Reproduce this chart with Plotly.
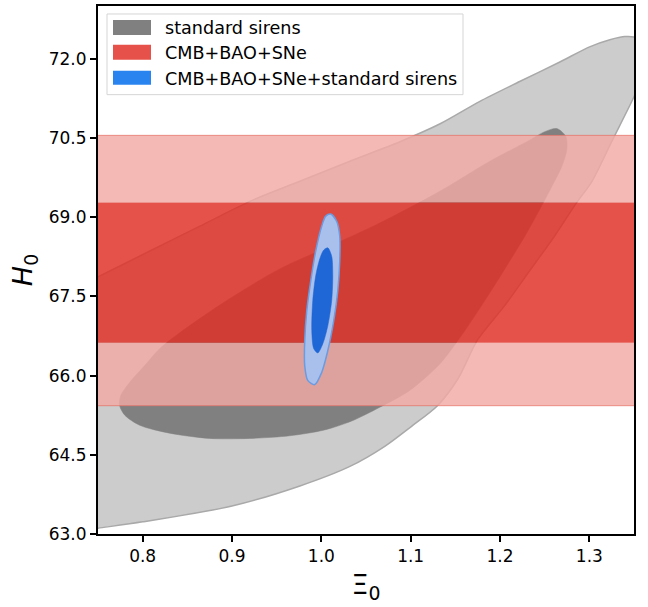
import plotly.graph_objects as go

# ---------------- data ----------------
# standard sirens: outer (2-sigma) contour
ss_outer_x = [0.7295, 0.750, 0.808, 0.864, 0.920, 0.976, 1.032, 1.088, 1.133, 1.177, 1.222,
              1.267, 1.301, 1.323, 1.340, 1.352, 1.362, 1.362, 1.350, 1.325, 1.303, 1.286,
              1.261, 1.233, 1.205, 1.175, 1.153, 1.130, 1.101, 1.071, 1.032, 0.976,
              0.900, 0.800, 0.750, 0.7295]
ss_outer_y = [67.70, 67.87, 68.36, 68.83, 69.30, 69.68, 70.06, 70.43, 70.77, 71.19, 71.57,
              71.94, 72.23, 72.36, 72.42, 72.40, 72.23, 71.75, 71.28, 70.43, 69.68, 69.28,
              68.64, 67.98, 67.32, 66.68, 65.94, 65.43, 65.04, 64.66, 64.28, 63.91,
              63.53, 63.23, 63.11, 63.06]

# standard sirens: inner (1-sigma) contour
ss_inner_x = [1.2636, 1.2737, 1.2748, 1.2692, 1.258, 1.2446, 1.2278, 1.2054, 1.183, 1.1606,
              1.1326, 1.0990, 1.0654, 1.034, 1.0035, 0.9646, 0.920, 0.875, 0.830, 0.7966,
              0.780, 0.7742, 0.7754, 0.7854, 0.8022, 0.819, 0.8414, 0.894, 0.9534, 1.0094,
              1.0654, 1.1326, 1.1886, 1.230, 1.2502, 1.2636]
ss_inner_y = [70.68, 70.53, 70.28, 69.96, 69.58, 69.15, 68.64, 68.02, 67.42, 66.85,
              66.22, 65.72, 65.40, 65.14, 64.97, 64.86, 64.81, 64.81, 64.91, 65.06,
              65.25, 65.43, 65.62, 65.87, 66.19, 66.51, 66.81, 67.42, 68.02, 68.45,
              68.89, 69.49, 70.06, 70.43, 70.62, 70.68]

# CMB+BAO+SNe: H0 bands (independent of Xi0)
cmb_x_span = [0.70, 1.40]
cmb_1sig = [66.62, 69.28]
cmb_2sig = [65.43, 70.55]

# CMB+BAO+SNe+standard sirens
comb_outer_x = [1.0105, 1.0172, 1.0206, 1.0206, 1.0184, 1.0139, 1.0072, 1.0004, 0.9926,
                0.9848, 0.9814, 0.9814, 0.9837, 0.9881, 0.9937, 1.0004, 1.0049, 1.0105]
comb_outer_y = [69.06, 68.92, 68.64, 68.17, 67.60, 67.04, 66.47, 66.06, 65.83,
                65.91, 66.19, 66.66, 67.23, 67.79, 68.36, 68.83, 69.02, 69.06]
comb_inner_x = [1.0072, 1.0116, 1.0128, 1.0116, 1.0072, 1.0016, 0.996, 0.9915, 0.9893,
                0.9904, 0.9937, 0.9982, 1.0027, 1.0072]
comb_inner_y = [68.42, 68.26, 67.89, 67.42, 66.94, 66.60, 66.43, 66.51, 66.85,
                67.42, 67.89, 68.21, 68.38, 68.42]

legend_labels = ["standard sirens", "CMB+BAO+SNe", "CMB+BAO+SNe+standard sirens"]
legend_colors = ["#808080", "#e6524a", "#2a84f0"]

x_ticks = [0.8, 0.9, 1.0, 1.1, 1.2, 1.3]
y_ticks = [63.0, 64.5, 66.0, 67.5, 69.0, 70.5, 72.0]

FONT = "DejaVu Sans"

# ---------------- figure ----------------
fig = go.Figure()

def band(lo, hi):
    x0, x1 = cmb_x_span
    return [x0, x1, x1, x0, x0], [lo, lo, hi, hi, lo]

# standard sirens
fig.add_trace(go.Scatter(x=ss_outer_x, y=ss_outer_y, mode="lines", fill="toself",
                         line=dict(color="#a9a9a9", width=1.5, shape="spline", smoothing=0.8),
                         fillcolor="#cccccc", showlegend=False, hoverinfo="skip"))
fig.add_trace(go.Scatter(x=ss_inner_x, y=ss_inner_y, mode="lines", fill="toself",
                         line=dict(color="#808080", width=0.5, shape="spline", smoothing=0.8),
                         fillcolor="#808080", showlegend=False, hoverinfo="skip"))

# CMB+BAO+SNe outer strips (2 sigma minus 1 sigma) and inner band
for lo, hi in [(cmb_2sig[0], cmb_1sig[0]), (cmb_1sig[1], cmb_2sig[1])]:
    bx, by = band(lo, hi)
    fig.add_trace(go.Scatter(x=bx, y=by, mode="lines", fill="toself",
                             line=dict(color="rgba(241,170,163,0.82)", width=0),
                             fillcolor="rgba(241,170,163,0.82)", showlegend=False,
                             hoverinfo="skip"))
bx, by = band(cmb_1sig[0], cmb_1sig[1])
fig.add_trace(go.Scatter(x=bx, y=by, mode="lines", fill="toself",
                         line=dict(color="rgba(224,48,38,0.835)", width=0),
                         fillcolor="rgba(224,48,38,0.835)", showlegend=False, hoverinfo="skip"))
# faint edges of the 2-sigma band
for yv in cmb_2sig:
    fig.add_trace(go.Scatter(x=cmb_x_span, y=[yv, yv], mode="lines",
                             line=dict(color="rgba(230,110,100,0.7)", width=1),
                             showlegend=False, hoverinfo="skip"))

# combined
fig.add_trace(go.Scatter(x=comb_outer_x, y=comb_outer_y, mode="lines", fill="toself",
                         line=dict(color="#6b9be0", width=1.5, shape="spline", smoothing=0.8),
                         fillcolor="#a9c0ec", showlegend=False, hoverinfo="skip"))
fig.add_trace(go.Scatter(x=comb_inner_x, y=comb_inner_y, mode="lines", fill="toself",
                         line=dict(color="#1f66d6", width=0.5, shape="spline", smoothing=0.8),
                         fillcolor="#1f66d6", showlegend=False, hoverinfo="skip"))

# ---------------- manual legend (matplotlib style) ----------------
L, R, T, B = 98, 634, 4, 534
def px(xp):
    return (xp - L) / (R - L)
def py(yp):
    return (B - yp) / (B - T)

shapes = [dict(type="rect", xref="paper", yref="paper",
               x0=px(107), x1=px(463), y0=py(93), y1=py(12),
               line=dict(color="#d5d5d5", width=1), fillcolor="rgba(255,255,255,0.85)",
               layer="above")]
annotations = []
rows = [(18, 33), (43, 58), (69, 83)]
for (y0, y1), lab, col in zip(rows, legend_labels, legend_colors):
    shapes.append(dict(type="rect", xref="paper", yref="paper",
                       x0=px(113), x1=px(151), y0=py(y1), y1=py(y0),
                       line=dict(width=0), fillcolor=col, layer="above"))
    annotations.append(dict(xref="paper", yref="paper", x=px(163), y=py((y0 + y1) / 2 + 1),
                            text=lab, showarrow=False, xanchor="left", yanchor="middle",
                            font=dict(family=FONT, size=17.6, color="#000000")))

fig.update_layout(
    width=648, height=607,
    margin=dict(l=L, r=648 - R, t=T, b=607 - B, pad=0),
    paper_bgcolor="white", plot_bgcolor="white",
    font=dict(family=FONT, size=17, color="black"),
    shapes=shapes, annotations=annotations,
    showlegend=False,
)
fig.update_xaxes(range=[0.75, 1.35], tickvals=x_ticks, tickformat=".1f",
                 showgrid=False, zeroline=False, showline=True, linecolor="black",
                 linewidth=2, mirror=True, ticks="outside", ticklen=6, tickwidth=1.5,
                 tickcolor="black", tickfont=dict(family=FONT, size=17),
                 title=dict(text="Ξ<sub>0</sub>", font=dict(family=FONT, size=27),
                            standoff=10))
fig.update_yaxes(range=[63.0, 73.0], tickvals=y_ticks, tickformat=".1f",
                 showgrid=False, zeroline=False, showline=True, linecolor="black",
                 linewidth=2, mirror=True, ticks="outside", ticklen=6, tickwidth=1.5,
                 tickcolor="black", tickfont=dict(family=FONT, size=17),
                 title=dict(text="<i>H</i><sub>0</sub>", font=dict(family=FONT, size=27),
                            standoff=8))

fig.write_html("out.html")
